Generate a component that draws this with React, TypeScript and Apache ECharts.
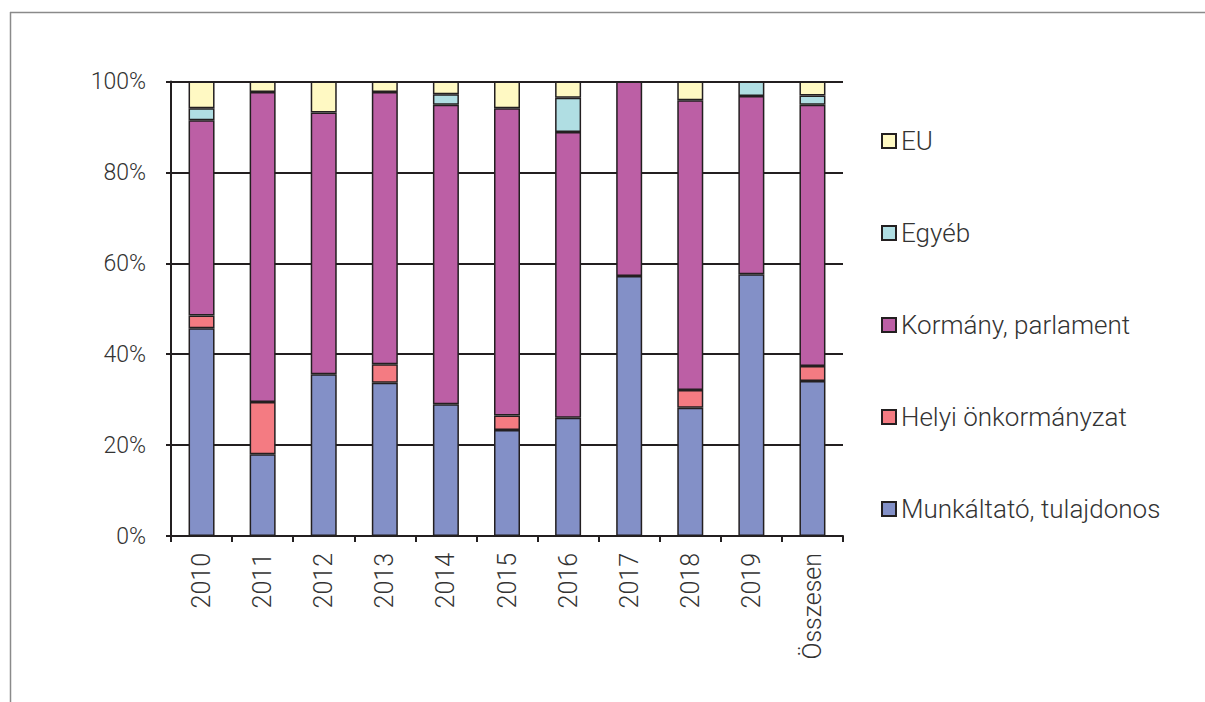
import React, { useEffect, useRef } from "react";
import * as echarts from "echarts";

const categories = ["2010", "2011", "2012", "2013", "2014", "2015", "2016", "2017", "2018", "2019", "Összesen"];
const munkaltato = [45.7, 18.0, 35.6, 33.7, 29.0, 23.3, 26.0, 57.2, 28.2, 57.6, 34.1];
const helyi = [2.8, 11.5, 0, 4.1, 0, 3.2, 0, 0, 3.9, 0, 3.3];
const kormany = [43.0, 68.2, 57.6, 59.9, 65.9, 67.6, 62.9, 42.8, 63.8, 39.2, 57.5];
const egyeb = [2.6, 0, 0, 0, 2.3, 0, 7.5, 0, 0, 3.2, 2.0];
const eu = [5.9, 2.3, 6.8, 2.3, 2.8, 5.9, 3.6, 0, 4.1, 0, 3.1];
const yTicks = [0, 20, 40, 60, 80, 100];

const seriesDefs = [
  { name: "Munkáltató, tulajdonos", data: munkaltato, color: "#8390C7" },
  { name: "Helyi önkormányzat", data: helyi, color: "#F47B82" },
  { name: "Kormány, parlament", data: kormany, color: "#BC5FA5" },
  { name: "Egyéb", data: egyeb, color: "#B0DEE3" },
  { name: "EU", data: eu, color: "#FFF9C3" },
];

const DARK = "#231F20";
const FONT = "Roboto";

export default function App() {
  const ref = useRef<HTMLDivElement>(null);
  useEffect(() => {
    if (!ref.current) return;
    const chart = echarts.init(ref.current, null, { renderer: "svg" });
    chart.setOption({
      animation: false,
      backgroundColor: "#ffffff",
      grid: { left: 171, top: 81.5, width: 672, height: 454.5, containLabel: false },
      legend: {
        orient: "vertical",
        left: 876,
        top: 121,
        itemWidth: 14,
        itemHeight: 14,
        itemGap: 62,
        icon: "rect",
        data: ["EU", "Egyéb", "Kormány, parlament", "Helyi önkormányzat", "Munkáltató, tulajdonos"],
        textStyle: { fontFamily: FONT, fontWeight: 300, fontSize: 26, color: "#333333", lineHeight: 30 },
        itemStyle: { borderColor: DARK, borderWidth: 2 },
        selectedMode: false,
      },
      xAxis: {
        type: "category",
        data: categories,
        boundaryGap: true,
        axisLine: { show: true, lineStyle: { color: DARK, width: 2 } },
        axisTick: { show: true, length: 6, lineStyle: { color: DARK, width: 2 }, alignWithLabel: false },
        axisLabel: { rotate: 90, fontFamily: FONT, fontWeight: 300, fontSize: 25, color: "#333333", margin: 17, interval: 0 },
        splitLine: { show: false },
      },
      yAxis: {
        type: "value",
        min: 0,
        max: 100,
        interval: 20,
        axisLine: { show: true, lineStyle: { color: DARK, width: 2 } },
        axisTick: { show: true, inside: false, length: 5, lineStyle: { color: DARK, width: 2 } },
        axisLabel: {
          fontFamily: FONT,
          fontWeight: 300,
          fontSize: 23,
          color: "#333333",
          margin: 25,
          formatter: (v: number) => (yTicks.includes(v) ? v + "%" : ""),
        },
        splitLine: { show: true, lineStyle: { color: DARK, width: 2 } },
      },
      series: seriesDefs.map((s) => ({
        name: s.name,
        type: "bar",
        stack: "total",
        data: s.data.map((v) => (v === 0 ? "-" : v)),
        barWidth: 26,
        itemStyle: { color: s.color, borderColor: DARK, borderWidth: 1.5 },
        emphasis: { disabled: true },
      })),
      graphic: [
        { type: "line", shape: { x1: 10, y1: 12.5, x2: 1205, y2: 12.5 }, style: { stroke: "#8a8a8a", lineWidth: 1.5 } },
        { type: "line", shape: { x1: 10.5, y1: 12, x2: 10.5, y2: 702 }, style: { stroke: "#8a8a8a", lineWidth: 1.5 } },
      ],
    });
    return () => chart.dispose();
  }, []);
  return <div ref={ref} style={{ position: "fixed", left: 0, top: 0, width: 1205, height: 702 }} />;
}
